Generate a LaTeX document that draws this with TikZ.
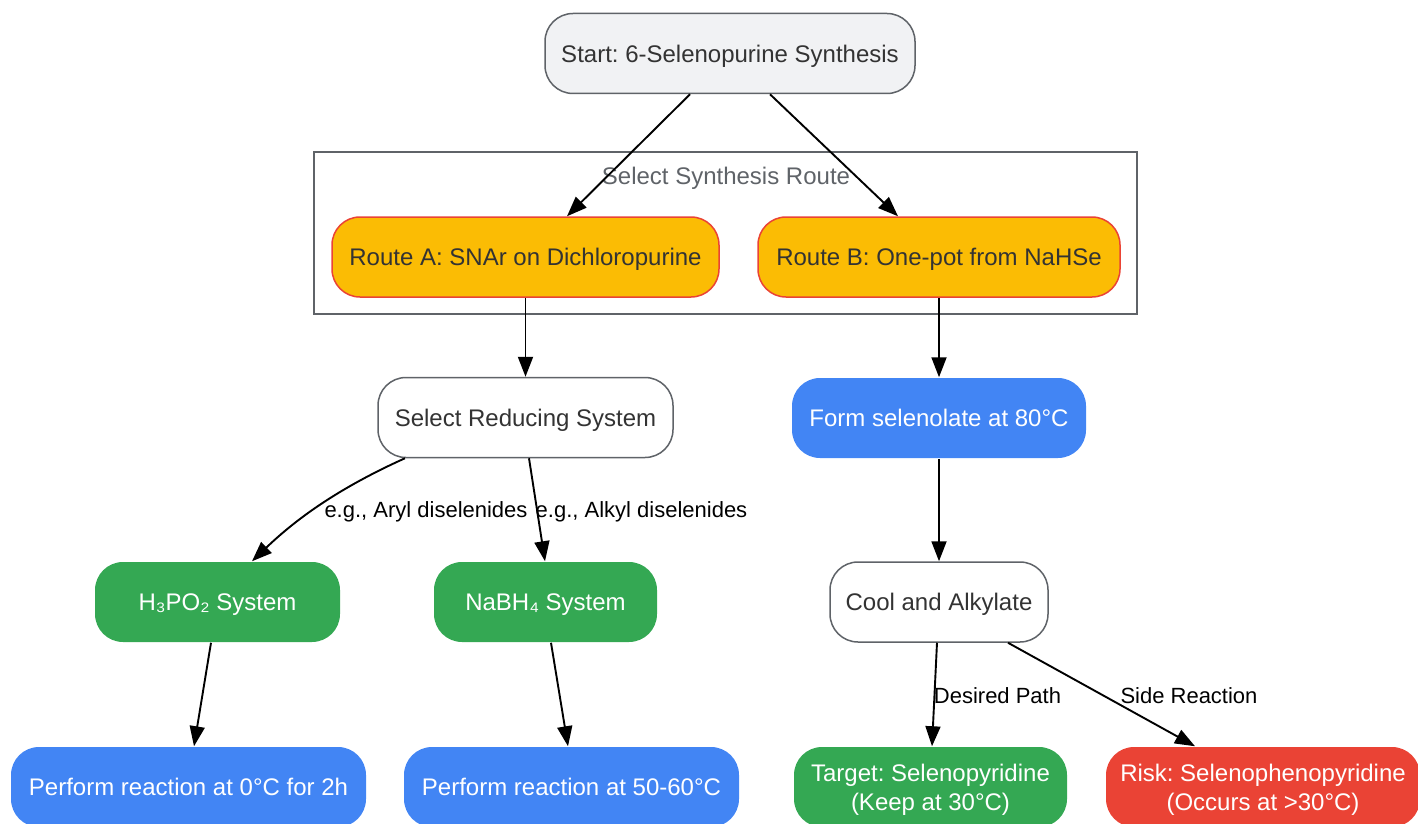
\documentclass[tikz,border=0pt]{standalone}
\usepackage{fontspec}
\setmainfont{Liberation Sans}
\frenchspacing
\usetikzlibrary{arrows.meta,calc}
\definecolor{gborder}{HTML}{5F6368}
\definecolor{gfill}{HTML}{F1F2F4}
\definecolor{gtext}{HTML}{333333}
\definecolor{yfill}{HTML}{FBBC04}
\definecolor{rborder}{HTML}{EA4335}
\definecolor{bfill}{HTML}{4285F4}
\definecolor{grfill}{HTML}{34A853}
\definecolor{rfill}{HTML}{EA4335}
\begin{document}
\begin{tikzpicture}[x=1pt,y=-1pt,
  box/.style={rounded corners=28pt, line width=1.5pt, minimum height=80pt, align=center,
    font=\fontsize{24}{29}\selectfont, inner sep=0pt, text depth=0pt},
  neutral/.style={box, draw=gborder, fill=white, text=gtext},
  startbox/.style={box, draw=gborder, fill=gfill, text=gtext},
  routebox/.style={box, draw=rborder, fill=yfill, text=gtext},
  bluebox/.style={box, fill=bfill, text=white},
  greenbox/.style={box, fill=grfill, text=white},
  redbox/.style={box, fill=rfill, text=white},
  conn/.style={line width=1.9pt, -{Triangle[length=20pt,width=15pt]}},
  lbl/.style={font=\fontsize{22}{26}\selectfont, text=black, inner sep=0pt},
]
\useasboundingbox (0,0) rectangle (1418,824);
\clip (0,0) rectangle (1418,824);

% cluster
\node[draw=gborder, line width=1.5pt, minimum width=823pt, minimum height=162pt, inner sep=0pt] (cluster) at (725.5,233) {};
\node[font=\fontsize{24}{28}\selectfont, text=gborder, inner sep=0pt] (clusterlbl) at (726,178) {Select Synthesis Route};

% nodes
\node[startbox, minimum width=370pt] (start) at (730,53.5) {Start: 6-Selenopurine Synthesis};
\node[routebox, minimum width=387pt] (ra) at (525.5,257) {Route A: SNAr on Dichloropurine};
\node[routebox, minimum width=362pt] (rb) at (939,257) {Route B: One-pot from NaHSe};
\node[neutral, minimum width=295pt] (sel) at (525.5,417.5) {Select Reducing System};
\node[bluebox, minimum width=294pt] (form) at (939,418) {Form selenolate at 80°C};
\node[greenbox, minimum width=245pt] (h3) at (217.5,602) {H₃PO₂ System};
\node[greenbox, minimum width=223pt] (na) at (545.5,602) {NaBH₄ System};
\node[neutral, minimum width=218pt] (cool) at (939,602) {Cool and Alkylate};
\node[bluebox, minimum width=355pt] (p1) at (188.5,787) {Perform reaction at 0°C for 2h};
\node[bluebox, minimum width=335pt] (p2) at (571.5,787) {Perform reaction at 50-60°C};
\node[greenbox, minimum width=273pt] (tgt) at (930.5,787) {Target: Selenopyridine\\(Keep at 30°C)};
\node[redbox, minimum width=314pt] (risk) at (1263,787) {Risk: Selenophenopyridine\\(Occurs at >30°C)};

% connectors
\draw[conn] ([xshift=-40pt]start.south) -- ([xshift=41.5pt]ra.north);
\draw[conn] ([xshift=40pt]start.south) -- ([xshift=-41pt]rb.north);
\draw[conn] (ra.south) -- (sel.north);
\draw[conn] (rb.south) -- (form.north);
\draw[conn] ([xshift=-120.5pt]sel.south) .. controls (330,492) and (290,525) .. ([xshift=34.5pt]h3.north);
\node[lbl] (l1) at (426,512) {e.g., Aryl diselenides};
\draw[conn] ([xshift=3.5pt]sel.south) -- ([xshift=-0.5pt]na.north);
\node[lbl] (l2) at (641.5,512) {e.g., Alkyl diselenides};
\draw[conn] ([xshift=-6.5pt]h3.south) -- ([xshift=5.5pt]p1.north);
\draw[conn] ([xshift=5.5pt]na.south) -- ([xshift=-3.5pt]p2.north);
\draw[conn] (form.south) -- (cool.north);
\draw[conn] ([xshift=-2pt]cool.south) -- ([xshift=1.5pt]tgt.north);
\node[lbl] (l3) at (997.5,696) {Desired Path};
\draw[conn] ([xshift=69pt]cool.south) -- ([xshift=-68pt]risk.north);
\node[lbl] (l4) at (1189,696) {Side Reaction};
\end{tikzpicture}
\end{document}
